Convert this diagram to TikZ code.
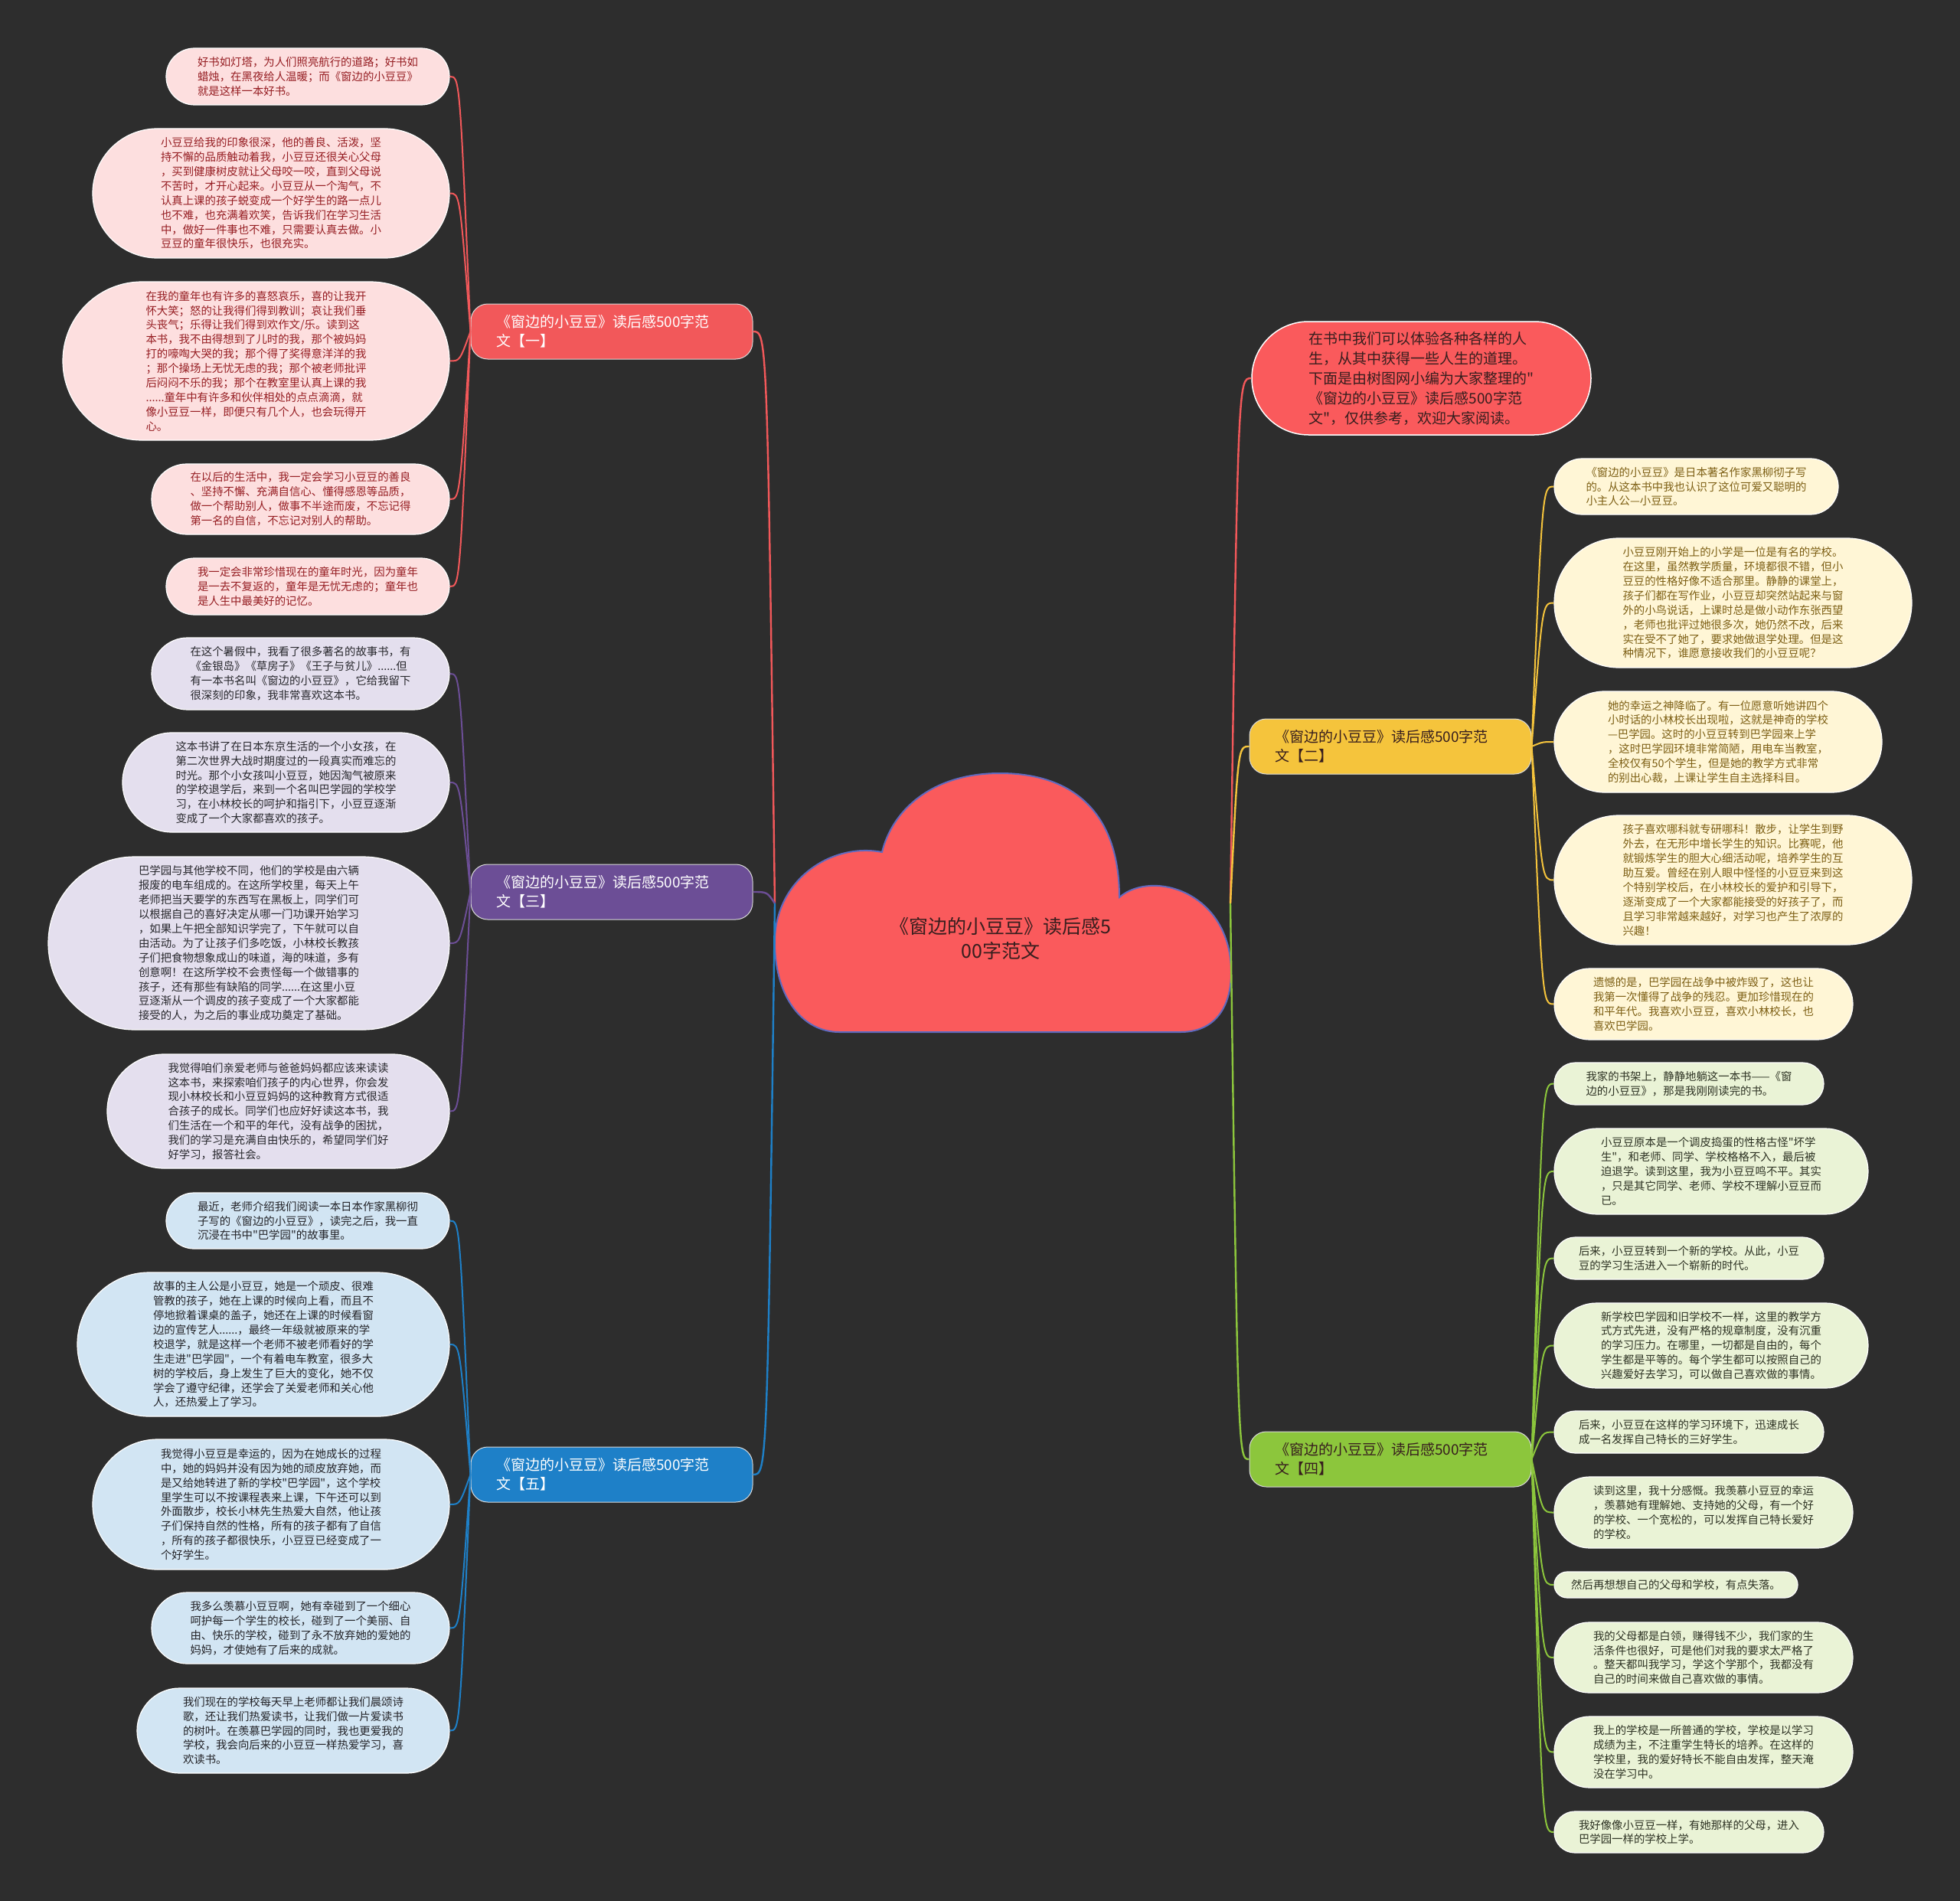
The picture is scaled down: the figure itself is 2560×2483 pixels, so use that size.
\documentclass[tikz,border=0pt]{standalone}
\usepackage{fontspec}
\setmainfont{Noto Sans CJK SC}[Ligatures=TeXOff]
\usetikzlibrary{calc}
\definecolor{bgc}{RGB}{45,45,45}
\definecolor{cred}{RGB}{250,90,92}
\definecolor{bred}{RGB}{242,88,90}
\definecolor{bpur}{RGB}{108,78,150}
\definecolor{bblu}{RGB}{30,128,200}
\definecolor{byel}{RGB}{245,196,60}
\definecolor{bgrn}{RGB}{140,198,60}
\definecolor{fpink}{RGB}{253,223,223}
\definecolor{tpink}{RGB}{150,30,35}
\definecolor{flav}{RGB}{228,223,238}
\definecolor{tlav}{RGB}{40,40,45}
\definecolor{fblu}{RGB}{210,229,243}
\definecolor{tblu}{RGB}{35,35,40}
\definecolor{fcrm}{RGB}{255,246,214}
\definecolor{tcrm}{RGB}{125,95,20}
\definecolor{fgrn}{RGB}{234,243,214}
\definecolor{tgrn}{RGB}{45,50,35}
\definecolor{cloudedge}{RGB}{95,105,190}
\definecolor{tdark}{RGB}{55,30,30}
\newcommand\leaffont{\fontsize{14.4}{18.9}\selectfont}
\newcommand\branchfont{\fontsize{19}{24.5}\selectfont}
\newcommand\introfont{\fontsize{19}{26}\selectfont}
\newcommand\centerfont{\fontsize{25}{32.6}\selectfont}
\newcommand\leafnode[7]{%
  \pgfmathsetmacro\lcx{(#3+#5)/2}\pgfmathsetmacro\lcy{(#4+#6)/2}%
  \pgfmathsetmacro\lw{#5-#3}\pgfmathsetmacro\lh{#6-#4}\pgfmathsetmacro\lr{(#6-#4)/2-0.05}%
  \node[#2, minimum width=\lw pt, minimum height=\lh pt, rounded corners=\lr pt] (#1) at (\lcx,\lcy) {#7};%
}
\begin{document}
\begin{tikzpicture}[x=1pt,y=-1pt,
  leafbase/.style={rectangle, draw=white, line width=1.2pt, align=left, inner sep=0pt, font=\leaffont},
  lpink/.style={leafbase, fill=fpink, text=tpink},
  llav/.style={leafbase, fill=flav, text=tlav},
  lblu/.style={leafbase, fill=fblu, text=tblu},
  lcrm/.style={leafbase, fill=fcrm, text=tcrm},
  lgrn/.style={leafbase, fill=fgrn, text=tgrn},
  branch/.style={rectangle, rounded corners=22pt, draw=white!85!black, line width=1pt, minimum width=368pt, minimum height=72pt, text width=302pt, align=left, font=\branchfont, inner sep=0pt},
  intro/.style={rectangle, fill=cred, draw=white, line width=1.5pt, text=tdark, align=left, font=\introfont, inner sep=0pt},
  mainconn/.style={line width=2.4pt},
  leafconn/.style={line width=2pt}
]
\fill[bgc] (0,0) rectangle (2560,2483);
\useasboundingbox (0,0) rectangle (2560,2483);

% central cloud
\draw[fill=cred, draw=cloudedge, line width=2pt]
  (1096,1348) -- (1542,1348)
  .. controls (1585,1348) and (1608,1318) .. (1608,1270)
  .. controls (1608,1165) and (1505,1135) .. (1462,1172)
  .. controls (1462,1070) and (1410,1010) .. (1306,1010)
  .. controls (1215,1010) and (1165,1060) .. (1152,1113)
  .. controls (1085,1100) and (1012,1150) .. (1012,1230)
  .. controls (1012,1305) and (1050,1348) .. (1096,1348) -- cycle;
\node[text=tdark, font=\centerfont, align=center] (center) at (1307,1226) {《窗边的小豆豆》读后感5\\00字范文};
\coordinate (JL) at (1012,1180);
\coordinate (JR) at (1607,1180);

% intro node
\leafnode{intro}{intro}{1635}{420}{2078}{568}{在书中我们可以体验各种各样的人\\生，从其中获得一些人生的道理。\\下面是由树图网小编为大家整理的"\\《窗边的小豆豆》读后感500字范\\文"，仅供参考，欢迎大家阅读。}

% branch nodes
\node[branch, fill=bred, text=white] (B1) at (799,433) {《窗边的小豆豆》读后感500字范\\文【一】};
\node[branch, fill=bpur, text=white] (B3) at (799,1165) {《窗边的小豆豆》读后感500字范\\文【三】};
\node[branch, fill=bblu, text=white] (B5) at (799,1926) {《窗边的小豆豆》读后感500字范\\文【五】};
\node[branch, fill=byel, text=tdark] (B2) at (1816,975) {《窗边的小豆豆》读后感500字范\\文【二】};
\node[branch, fill=bgrn, text=tdark] (B4) at (1816,1906) {《窗边的小豆豆》读后感500字范\\文【四】};

% leaves of branch 1
\leafnode{L1a}{lpink}{217}{63}{587}{137}{好书如灯塔，为人们照亮航行的道路；好书如\\蜡烛，在黑夜给人温暖；而《窗边的小豆豆》\\就是这样一本好书。}
\leafnode{L1b}{lpink}{121}{168}{587}{337}{小豆豆给我的印象很深，他的善良、活泼，坚\\持不懈的品质触动着我，小豆豆还很关心父母\\，买到健康树皮就让父母咬一咬，直到父母说\\不苦时，才开心起来。小豆豆从一个淘气，不\\认真上课的孩子蜕变成一个好学生的路一点儿\\也不难，也充满着欢笑，告诉我们在学习生活\\中，做好一件事也不难，只需要认真去做。小\\豆豆的童年很快乐，也很充实。}
\leafnode{L1c}{lpink}{82}{368}{587}{575}{在我的童年也有许多的喜怒哀乐，喜的让我开\\怀大笑；怒的让我得们得到教训；哀让我们垂\\头丧气；乐得让我们得到欢作文/乐。读到这\\本书，我不由得想到了儿时的我，那个被妈妈\\打的嚎啕大哭的我；那个得了奖得意洋洋的我\\；那个操场上无忧无虑的我；那个被老师批评\\后闷闷不乐的我；那个在教室里认真上课的我\\......童年中有许多和伙伴相处的点点滴滴，就\\像小豆豆一样，即便只有几个人，也会玩得开\\心。}
\leafnode{L1d}{lpink}{198}{606}{587}{698}{在以后的生活中，我一定会学习小豆豆的善良\\、坚持不懈、充满自信心、懂得感恩等品质，\\做一个帮助别人，做事不半途而废，不忘记得\\第一名的自信，不忘记对别人的帮助。}
\leafnode{L1e}{lpink}{217}{729}{587}{803}{我一定会非常珍惜现在的童年时光，因为童年\\是一去不复返的，童年是无忧无虑的；童年也\\是人生中最美好的记忆。}

% leaves of branch 3
\leafnode{L3a}{llav}{198}{833}{587}{927}{在这个暑假中，我看了很多著名的故事书，有\\《金银岛》《草房子》《王子与贫儿》......但\\有一本书名叫《窗边的小豆豆》，它给我留下\\很深刻的印象，我非常喜欢这本书。}
\leafnode{L3b}{llav}{160}{957}{587}{1087}{这本书讲了在日本东京生活的一个小女孩，在\\第二次世界大战时期度过的一段真实而难忘的\\时光。那个小女孩叫小豆豆，她因淘气被原来\\的学校退学后，来到一个名叫巴学园的学校学\\习，在小林校长的呵护和指引下，小豆豆逐渐\\变成了一个大家都喜欢的孩子。}
\leafnode{L3c}{llav}{63}{1119}{587}{1345}{巴学园与其他学校不同，他们的学校是由六辆\\报废的电车组成的。在这所学校里，每天上午\\老师把当天要学的东西写在黑板上，同学们可\\以根据自己的喜好决定从哪一门功课开始学习\\，如果上午把全部知识学完了，下午就可以自\\由活动。为了让孩子们多吃饭，小林校长教孩\\子们把食物想象成山的味道，海的味道，多有\\创意啊！在这所学校不会责怪每一个做错事的\\孩子，还有那些有缺陷的同学......在这里小豆\\豆逐渐从一个调皮的孩子变成了一个大家都能\\接受的人，为之后的事业成功奠定了基础。}
\leafnode{L3d}{llav}{140}{1377}{587}{1526}{我觉得咱们亲爱老师与爸爸妈妈都应该来读读\\这本书，来探索咱们孩子的内心世界，你会发\\现小林校长和小豆豆妈妈的这种教育方式很适\\合孩子的成长。同学们也应好好读这本书，我\\们生活在一个和平的年代，没有战争的困扰，\\我们的学习是充满自由快乐的，希望同学们好\\好学习，报答社会。}

% leaves of branch 5
\leafnode{L5a}{lblu}{217}{1558}{587}{1631}{最近，老师介绍我们阅读一本日本作家黑柳彻\\子写的《窗边的小豆豆》，读完之后，我一直\\沉浸在书中"巴学园"的故事里。}
\leafnode{L5b}{lblu}{101}{1662}{587}{1850}{故事的主人公是小豆豆，她是一个顽皮、很难\\管教的孩子，她在上课的时候向上看，而且不\\停地掀着课桌的盖子，她还在上课的时候看窗\\边的宣传艺人......，最终一年级就被原来的学\\校退学，就是这样一个老师不被老师看好的学\\生走进"巴学园"，一个有着电车教室，很多大\\树的学校后，身上发生了巨大的变化，她不仅\\学会了遵守纪律，还学会了关爱老师和关心他\\人，还热爱上了学习。}
\leafnode{L5c}{lblu}{121}{1880}{587}{2050}{我觉得小豆豆是幸运的，因为在她成长的过程\\中，她的妈妈并没有因为她的顽皮放弃她，而\\是又给她转进了新的学校"巴学园"，这个学校\\里学生可以不按课程表来上课，下午还可以到\\外面散步，校长小林先生热爱大自然，他让孩\\子们保持自然的性格，所有的孩子都有了自信\\，所有的孩子都很快乐，小豆豆已经变成了一\\个好学生。}
\leafnode{L5d}{lblu}{198}{2080}{587}{2173}{我多么羡慕小豆豆啊，她有幸碰到了一个细心\\呵护每一个学生的校长，碰到了一个美丽、自\\由、快乐的学校，碰到了永不放弃她的爱她的\\妈妈，才使她有了后来的成就。}
\leafnode{L5e}{lblu}{179}{2205}{587}{2316}{我们现在的学校每天早上老师都让我们晨颂诗\\歌，还让我们热爱读书，让我们做一片爱读书\\的树叶。在羡慕巴学园的同时，我也更爱我的\\学校，我会向后来的小豆豆一样热爱学习，喜\\欢读书。}

% leaves of branch 2
\leafnode{R2a}{lcrm}{2030}{599}{2401}{672}{《窗边的小豆豆》是日本著名作家黑柳彻子写\\的。从这本书中我也认识了这位可爱又聪明的\\小主人公—小豆豆。}
\leafnode{R2b}{lcrm}{2030}{703}{2497}{872}{小豆豆刚开始上的小学是一位是有名的学校。\\在这里，虽然教学质量，环境都很不错，但小\\豆豆的性格好像不适合那里。静静的课堂上，\\孩子们都在写作业，小豆豆却突然站起来与窗\\外的小鸟说话，上课时总是做小动作东张西望\\，老师也批评过她很多次，她仍然不改，后来\\实在受不了她了，要求她做退学处理。但是这\\种情况下，谁愿意接收我们的小豆豆呢？}
\leafnode{R2c}{lcrm}{2030}{903}{2458}{1035}{她的幸运之神降临了。有一位愿意听她讲四个\\小时话的小林校长出现啦，这就是神奇的学校\\—巴学园。这时的小豆豆转到巴学园来上学\\，这时巴学园环境非常简陋，用电车当教室，\\全校仅有50个学生，但是她的教学方式非常\\的别出心裁，上课让学生自主选择科目。}
\leafnode{R2d}{lcrm}{2030}{1065}{2497}{1234}{孩子喜欢哪科就专研哪科！散步，让学生到野\\外去，在无形中增长学生的知识。比赛呢，他\\就锻炼学生的胆大心细活动呢，培养学生的互\\助互爱。曾经在别人眼中怪怪的小豆豆来到这\\个特别学校后，在小林校长的爱护和引导下，\\逐渐变成了一个大家都能接受的好孩子了，而\\且学习非常越来越好，对学习也产生了浓厚的\\兴趣！}
\leafnode{R2e}{lcrm}{2030}{1265}{2420}{1358}{遗憾的是，巴学园在战争中被炸毁了，这也让\\我第一次懂得了战争的残忍。更加珍惜现在的\\和平年代。我喜欢小豆豆，喜欢小林校长，也\\喜欢巴学园。}

% leaves of branch 4
\leafnode{R4a}{lgrn}{2030}{1388}{2382}{1443}{我家的书架上，静静地躺这一本书——《窗\\边的小豆豆》，那是我刚刚读完的书。}
\leafnode{R4b}{lgrn}{2030}{1474}{2440}{1586}{小豆豆原本是一个调皮捣蛋的性格古怪"坏学\\生"，和老师、同学、学校格格不入，最后被\\迫退学。读到这里，我为小豆豆鸣不平。其实\\，只是其它同学、老师、学校不理解小豆豆而\\已。}
\leafnode{R4c}{lgrn}{2030}{1616}{2382}{1671}{后来，小豆豆转到一个新的学校。从此，小豆\\豆的学习生活进入一个崭新的时代。}
\leafnode{R4d}{lgrn}{2030}{1702}{2440}{1813}{新学校巴学园和旧学校不一样，这里的教学方\\式方式先进，没有严格的规章制度，没有沉重\\的学习压力。在哪里，一切都是自由的，每个\\学生都是平等的。每个学生都可以按照自己的\\兴趣爱好去学习，可以做自己喜欢做的事情。}
\leafnode{R4e}{lgrn}{2030}{1843}{2382}{1898}{后来，小豆豆在这样的学习环境下，迅速成长\\成一名发挥自己特长的三好学生。}
\leafnode{R4f}{lgrn}{2030}{1929}{2420}{2022}{读到这里，我十分感慨。我羡慕小豆豆的幸运\\，羡慕她有理解她、支持她的父母，有一个好\\的学校、一个宽松的，可以发挥自己特长爱好\\的学校。}
\leafnode{R4g}{lgrn}{2030}{2053}{2348}{2087}{然后再想想自己的父母和学校，有点失落。}
\leafnode{R4h}{lgrn}{2030}{2119}{2420}{2211}{我的父母都是白领，赚得钱不少，我们家的生\\活条件也很好，可是他们对我的要求太严格了\\。整天都叫我学习，学这个学那个，我都没有\\自己的时间来做自己喜欢做的事情。}
\leafnode{R4i}{lgrn}{2030}{2242}{2420}{2335}{我上的学校是一所普通的学校，学校是以学习\\成绩为主，不注重学生特长的培养。在这样的\\学校里，我的爱好特长不能自由发挥，整天淹\\没在学习中。}
\leafnode{R4j}{lgrn}{2030}{2366}{2382}{2420}{我好像像小豆豆一样，有她那样的父母，进入\\巴学园一样的学校上学。}

% center connectors
\draw[mainconn, bred] (JL) .. controls ($(JL |- B1.east)+(-10,0)$) .. (B1.east);
\draw[mainconn, bpur] (JL) .. controls ($(JL |- B3.east)+(-10,0)$) .. (B3.east);
\draw[mainconn, bblu] (JL) .. controls ($(JL |- B5.east)+(-10,0)$) .. (B5.east);
\draw[mainconn, bred] (JR) .. controls ($(JR |- intro.west)+(10,0)$) .. (intro.west);
\draw[mainconn, byel] (JR) .. controls ($(JR |- B2.west)+(10,0)$) .. (B2.west);
\draw[mainconn, bgrn] (JR) .. controls ($(JR |- B4.west)+(10,0)$) .. (B4.west);

% leaf connectors
\foreach \nm in {L1a,L1b,L1c,L1d,L1e}
  \draw[leafconn, bred] (B1.west) .. controls ($(B1.west |- \nm.east)+(-14,0)$) .. (\nm.east);
\foreach \nm in {L3a,L3b,L3c,L3d}
  \draw[leafconn, bpur] (B3.west) .. controls ($(B3.west |- \nm.east)+(-14,0)$) .. (\nm.east);
\foreach \nm in {L5a,L5b,L5c,L5d,L5e}
  \draw[leafconn, bblu] (B5.west) .. controls ($(B5.west |- \nm.east)+(-14,0)$) .. (\nm.east);
\foreach \nm in {R2a,R2b,R2c,R2d,R2e}
  \draw[leafconn, byel] (B2.east) .. controls ($(B2.east |- \nm.west)+(14,0)$) .. (\nm.west);
\foreach \nm in {R4a,R4b,R4c,R4d,R4e,R4f,R4g,R4h,R4i,R4j}
  \draw[leafconn, bgrn] (B4.east) .. controls ($(B4.east |- \nm.west)+(14,0)$) .. (\nm.west);
\end{tikzpicture}
\end{document}
